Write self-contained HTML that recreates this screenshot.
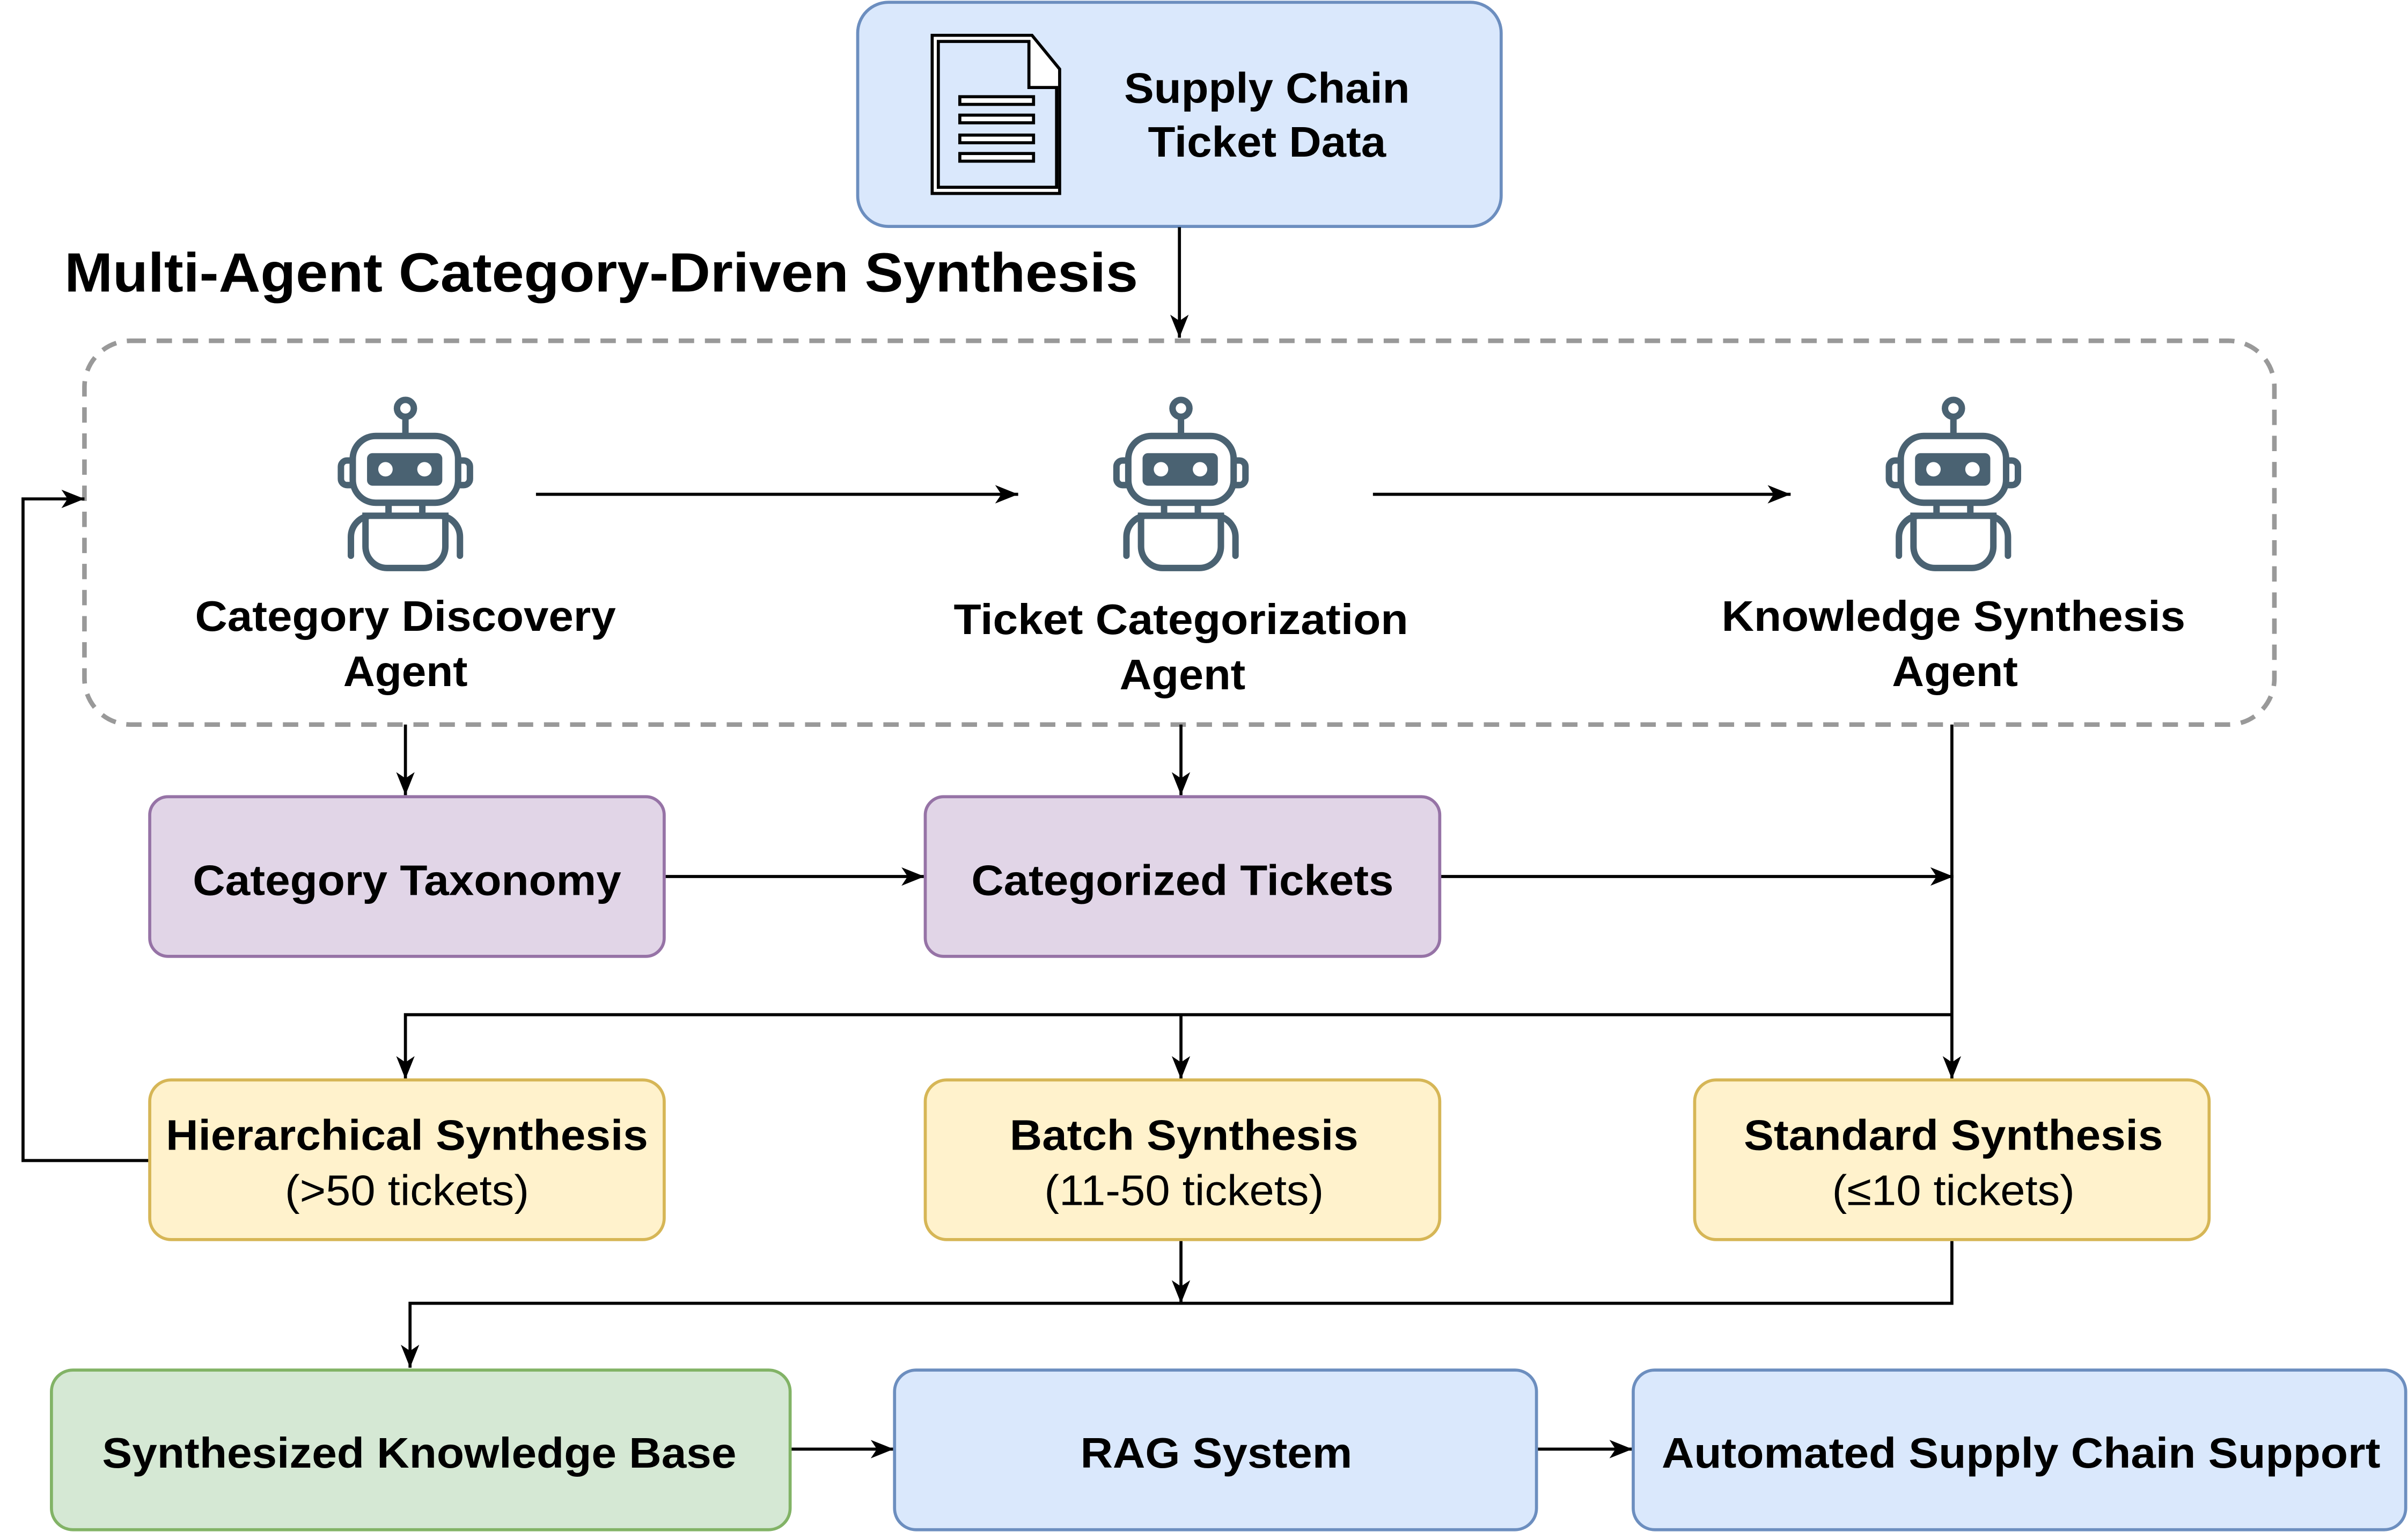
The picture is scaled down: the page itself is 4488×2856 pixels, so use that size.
<!DOCTYPE html>
<html><head><meta charset="utf-8"><style>
html,body{margin:0;padding:0;background:#fff;}
svg{display:block;}
text{font-family:"Liberation Sans",Arial,sans-serif;fill:#000;}
.b{font-weight:bold;font-size:28px;}
.n{font-size:28px;}
</style></head><body>
<svg width="4488" height="2856" viewBox="0 0 1568 998" preserveAspectRatio="none" xmlns="http://www.w3.org/2000/svg">
<defs>
<marker id="a" markerWidth="16" markerHeight="14" refX="15" refY="7" orient="auto" markerUnits="userSpaceOnUse">
<path d="M0,1 L15,7 L0,13 L4,7 Z" fill="#000"/>
</marker>
<g id="robot" fill="none" stroke="#4a6272" stroke-width="4.2" stroke-linecap="round">
<circle cx="0" cy="266" r="5.5"/>
<line x1="0" y1="272" x2="0" y2="282"/>
<rect x="-34.3" y="284" width="68.6" height="43.5" rx="15"/>
<rect x="-25" y="295.2" width="49" height="21.2" rx="3.5" fill="#4a6272" stroke="none"/>
<circle cx="-13" cy="305.7" r="4.7" fill="#fff" stroke="none"/>
<circle cx="12.4" cy="305.7" r="4.7" fill="#fff" stroke="none"/>
<path d="M-35,300 h-3 a4,4 0 0 0 -4,4 v8 a4,4 0 0 0 4,4 h3"/>
<path d="M35,300 h3 a4,4 0 0 1 4,4 v8 a4,4 0 0 1 -4,4 h-3"/>
<line x1="-11" y1="329" x2="-11" y2="335"/>
<line x1="11" y1="329" x2="11" y2="335"/>
<path d="M-26,336 h52 v20 a14,14 0 0 1 -14,14 h-24 a14,14 0 0 1 -14,-14 Z"/>
<path d="M-35.5,362 v-12 a14,14 0 0 1 12,-14"/>
<path d="M35.5,362 v-12 a14,14 0 0 0 -12,-14"/>
</g>
</defs>

<rect x="558.5" y="1.5" width="419" height="146" rx="20" fill="#dae8fc" stroke="#6c8ebf" stroke-width="2"/>
<g fill="#fff" stroke="#000" stroke-width="2">
<path d="M607,23 H672 L690,45 V126 H607 Z" fill="#fff"/>
<path d="M611,27 H670 V57 H688 V122 H611 Z" fill="#dae8fc"/>
<rect x="625" y="63" width="48" height="5" fill="#fff"/>
<rect x="625" y="75" width="48" height="5" fill="#fff"/>
<rect x="625" y="88" width="48" height="5" fill="#fff"/>
<rect x="625" y="100" width="48" height="5" fill="#fff"/>
</g>
<text class="b" x="825" y="67" text-anchor="middle" textLength="186" lengthAdjust="spacingAndGlyphs">Supply Chain</text>
<text class="b" x="825" y="102" text-anchor="middle" textLength="155" lengthAdjust="spacingAndGlyphs">Ticket Data</text>

<text x="42" y="190" font-weight="bold" font-size="36" textLength="699" lengthAdjust="spacingAndGlyphs">Multi-Agent Category-Driven Synthesis</text>

<line x1="768" y1="148" x2="768" y2="220" stroke="#000" stroke-width="2" marker-end="url(#a)"/>

<rect x="55" y="222" width="1426" height="250" rx="30" fill="none" stroke="#999" stroke-width="3" stroke-dasharray="10,7"/>

<use href="#robot" transform="translate(264,0)"/>
<use href="#robot" transform="translate(769,0)"/>
<use href="#robot" transform="translate(1272,0)"/>

<text class="b" x="264" y="411" text-anchor="middle" textLength="274" lengthAdjust="spacingAndGlyphs">Category Discovery</text>
<text class="b" x="264" y="447" text-anchor="middle" textLength="81" lengthAdjust="spacingAndGlyphs">Agent</text>
<text class="b" x="769" y="413" text-anchor="middle" textLength="296" lengthAdjust="spacingAndGlyphs">Ticket Categorization</text>
<text class="b" x="770" y="449" text-anchor="middle" textLength="82" lengthAdjust="spacingAndGlyphs">Agent</text>
<text class="b" x="1272" y="411" text-anchor="middle" textLength="302" lengthAdjust="spacingAndGlyphs">Knowledge Synthesis</text>
<text class="b" x="1273" y="447" text-anchor="middle" textLength="82" lengthAdjust="spacingAndGlyphs">Agent</text>

<g stroke="#000" stroke-width="2" fill="none">
<line x1="349" y1="322" x2="663" y2="322" marker-end="url(#a)"/>
<line x1="894" y1="322" x2="1166" y2="322" marker-end="url(#a)"/>
<line x1="264" y1="472" x2="264" y2="518" marker-end="url(#a)"/>
<line x1="769" y1="472" x2="769" y2="518" marker-end="url(#a)"/>
<line x1="1271" y1="472" x2="1271" y2="703" marker-end="url(#a)"/>
<line x1="432" y1="571" x2="602" y2="571" marker-end="url(#a)"/>
<line x1="938" y1="571" x2="1272" y2="571" marker-end="url(#a)"/>
<polyline points="1271,661 264,661 264,703" marker-end="url(#a)"/>
<line x1="769" y1="661" x2="769" y2="703" marker-end="url(#a)"/>
<polyline points="97,756 15,756 15,325 55,325" marker-end="url(#a)"/>
<line x1="769" y1="807" x2="769" y2="849" marker-end="url(#a)"/>
<polyline points="1271,807 1271,849 267,849 267,891" marker-end="url(#a)"/>
<line x1="514" y1="944" x2="582" y2="944" marker-end="url(#a)"/>
<line x1="1000" y1="944" x2="1063" y2="944" marker-end="url(#a)"/>
</g>

<rect x="97.5" y="519" width="335" height="104" rx="12" fill="#e1d5e7" stroke="#9673a6" stroke-width="2"/>
<rect x="602.5" y="519" width="335" height="104" rx="12" fill="#e1d5e7" stroke="#9673a6" stroke-width="2"/>
<text class="b" x="265" y="583" text-anchor="middle" textLength="279" lengthAdjust="spacingAndGlyphs">Category Taxonomy</text>
<text class="b" x="770" y="583" text-anchor="middle" textLength="275" lengthAdjust="spacingAndGlyphs">Categorized Tickets</text>

<rect x="97.5" y="703.5" width="335" height="104" rx="14" fill="#fff2cc" stroke="#d6b656" stroke-width="2"/>
<rect x="602.5" y="703.5" width="335" height="104" rx="14" fill="#fff2cc" stroke="#d6b656" stroke-width="2"/>
<rect x="1103.5" y="703.5" width="335" height="104" rx="14" fill="#fff2cc" stroke="#d6b656" stroke-width="2"/>
<text class="b" x="265" y="749" text-anchor="middle" textLength="314" lengthAdjust="spacingAndGlyphs">Hierarchical Synthesis</text>
<text class="n" x="265" y="785" text-anchor="middle" textLength="159" lengthAdjust="spacingAndGlyphs">(&gt;50 tickets)</text>
<text class="b" x="771" y="749" text-anchor="middle" textLength="227" lengthAdjust="spacingAndGlyphs">Batch Synthesis</text>
<text class="n" x="771" y="785" text-anchor="middle" textLength="182" lengthAdjust="spacingAndGlyphs">(11-50 tickets)</text>
<text class="b" x="1272" y="749" text-anchor="middle" textLength="273" lengthAdjust="spacingAndGlyphs">Standard Synthesis</text>
<text class="n" x="1272" y="785" text-anchor="middle" textLength="158" lengthAdjust="spacingAndGlyphs">(≤10 tickets)</text>

<rect x="33.5" y="892.5" width="481" height="104" rx="14" fill="#d5e8d4" stroke="#82b366" stroke-width="2"/>
<rect x="582.5" y="892.5" width="418" height="104" rx="14" fill="#dae8fc" stroke="#6c8ebf" stroke-width="2"/>
<rect x="1063.5" y="892.5" width="503" height="104" rx="14" fill="#dae8fc" stroke="#6c8ebf" stroke-width="2"/>
<text class="b" x="273" y="956" text-anchor="middle" textLength="413" lengthAdjust="spacingAndGlyphs">Synthesized Knowledge Base</text>
<text class="b" x="792" y="956" text-anchor="middle" textLength="177" lengthAdjust="spacingAndGlyphs">RAG System</text>
<text class="b" x="1316" y="956" text-anchor="middle" textLength="468" lengthAdjust="spacingAndGlyphs">Automated Supply Chain Support</text>
</svg>
</body></html>
